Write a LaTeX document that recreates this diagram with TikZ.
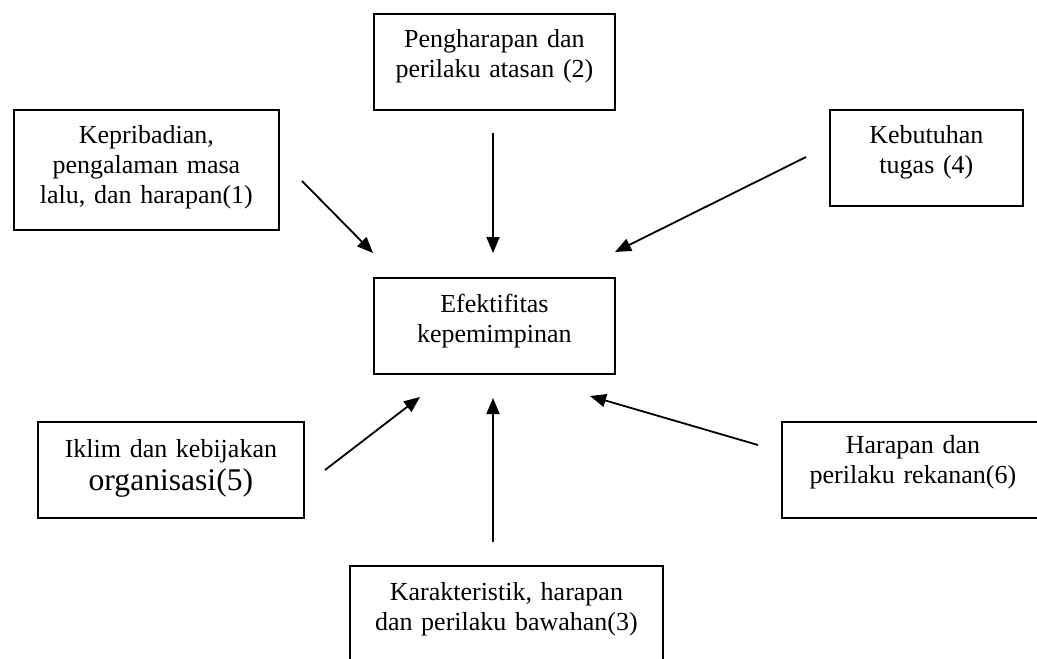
\documentclass[tikz,border=0pt]{standalone}
\usepackage{fontspec}
\setmainfont{Liberation Serif}
\usetikzlibrary{arrows.meta}
\tikzset{
    factorbox/.style={draw, line width=0.9pt, inner sep=0pt, anchor=north west,
        align=center, font=\fontsize{13}{15}\selectfont},
    influence/.style={->, line width=0.9pt},
}
\begin{document}
\begin{tikzpicture}[x=0.5pt, y=-0.5pt, >={Triangle[length=8pt,width=6.5pt]}]
    \useasboundingbox (0,0) rectangle (1037,658);

    \node[factorbox, text width=132.5pt, text height=17pt, text depth=43pt] (pribadi) at (13,109)
        {Kepribadian,\\pengalaman masa\\lalu, dan harapan(1)};
    \node[factorbox, text width=120.5pt, text height=17pt, text depth=31pt] (atasan) at (373,13)
        {Pengharapan dan\\perilaku atasan (2)};
    \node[factorbox, text width=96.5pt, text height=17pt, text depth=31pt] (tugas) at (829,109)
        {Kebutuhan\\tugas (4)};
    \node[factorbox, text width=120.5pt, text height=17.5pt, text depth=30.5pt] (efektif) at (373,277)
        {Efektifitas\\kepemimpinan};
    \node[factorbox, text width=133pt, text height=18pt, text depth=30pt] (iklim) at (37,421)
        {Iklim dan kebijakan\\[1.5pt]{\fontsize{15.8}{19}\selectfont organisasi(5)}};
    \node[factorbox, text width=131pt, text height=16pt, text depth=32pt] (rekanan) at (781,421)
        {Harapan dan\\perilaku rekanan(6)};
    \node[factorbox, text width=156.5pt, text height=17.5pt, text depth=40pt] (bawahan) at (349,565)
        {Karakteristik, harapan\\dan perilaku bawahan(3)};

    \coordinate (A1) at (302,181);
    \coordinate (B1) at (373,253);
    \coordinate (A2) at (493,133);
    \coordinate (B2) at (493,253);
    \coordinate (A4) at (806,157);
    \coordinate (B4) at (615,252);
    \coordinate (A5) at (325,470);
    \coordinate (B5) at (420,397);
    \coordinate (A3) at (493,542);
    \coordinate (B3) at (493,398);
    \coordinate (A6) at (758,445);
    \coordinate (B6) at (590,396);

    \draw[influence] (A1) -- (B1);
    \draw[influence] (A2) -- (B2);
    \draw[influence] (A4) -- (B4);
    \draw[influence] (A5) -- (B5);
    \draw[influence] (A3) -- (B3);
    \draw[influence] (A6) -- (B6);
\end{tikzpicture}
\end{document}
